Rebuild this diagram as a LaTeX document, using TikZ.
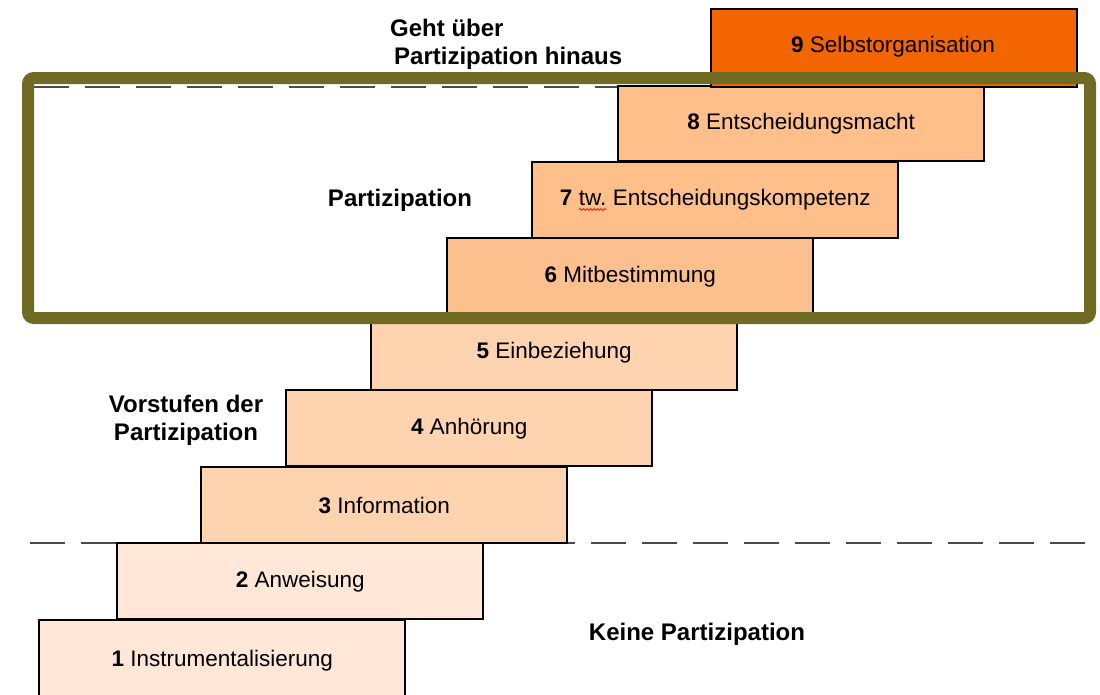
\documentclass[tikz,border=0pt]{standalone}
\usepackage{fontspec}
\setmainfont{Liberation Sans}
\usetikzlibrary{decorations.pathmorphing}
\definecolor{cnine}{HTML}{F26500}
\definecolor{ceight}{HTML}{FFBF8A}
\definecolor{csix}{HTML}{FCC08F}
\definecolor{cfive}{HTML}{FED3AF}
\definecolor{ctwo}{HTML}{FEE7D6}
\definecolor{olive}{HTML}{706B22}
\definecolor{dashgray}{HTML}{4A4A4A}
\newcommand{\squigword}[1]{\tikz[baseline=0pt,x=1pt,y=1pt]{\node[inner sep=0pt,outer sep=0pt,minimum width=0pt,minimum height=0pt,draw=none,fill=none,anchor=base west] (tw) at (0,0) {#1};
  \draw[red,line width=0.7pt,decorate,decoration={snake,amplitude=0.9pt,segment length=3.5pt}] ([yshift=-3.5pt]tw.base west) -- ([yshift=-3.5pt]tw.base east);}}
\begin{document}
\begin{tikzpicture}[x=1pt,y=-1pt,
  stepbox/.style={draw=black,line width=2.4pt,minimum width=366pt,minimum height=76pt,inner sep=0pt,anchor=north west,font=\fontsize{22.5}{27}\selectfont},
  lab/.style={font=\fontsize{24}{28}\selectfont\bfseries,align=center,inner sep=0pt},
  sep/.style={dashgray,line width=2pt,dash pattern=on 35pt off 16pt}]
\useasboundingbox[fill=white] (0,0) rectangle (1100,694);
% separator lines
\coordinate (d1a) at (30,543); \coordinate (d1b) at (1095,543);
\coordinate (d2a) at (34,86.5); \coordinate (d2b) at (617,86.5);
\draw[sep] (d1a) -- (d1b);
\draw[sep] (d2a) -- (d2b);
% steps
\node[stepbox,fill=ctwo,minimum height=80pt] (s1) at (38,619) {\textbf{1} Instrumentalisierung};
\node[stepbox,fill=ctwo] (s2) at (116,542) {\textbf{2} Anweisung};
\node[stepbox,fill=cfive] (s3) at (200,466) {\textbf{3} Information};
\node[stepbox,fill=cfive] (s4) at (285,389) {\textbf{4} Anhörung};
\node[stepbox,fill=cfive] (s5) at (370,313) {\textbf{5} Einbeziehung};
\node[stepbox,fill=csix] (s6) at (446,237) {\textbf{6} Mitbestimmung};
\node[stepbox,fill=ceight] (s7) at (531,161) {\textbf{7} \squigword{tw.} Entscheidungskompetenz};
\node[stepbox,fill=ceight,minimum height=75pt] (s8) at (617,85) {\textbf{8} Entscheidungsmacht};
\node[stepbox,fill=cnine,minimum height=78pt] (s9) at (710,8) {};
\node[font=\fontsize{22.5}{27}\selectfont,inner sep=0pt] (t9) at (893,46.5) {\textbf{9} Selbstorganisation};
% participation frame
\coordinate (fa) at (28,78); \coordinate (fb) at (1090,318);
\draw[olive,line width=12pt,rounded corners=6pt] (fa) rectangle (fb);
% labels
\node[lab,align=left,anchor=west] (geht) at (390,44) {Geht über\\\hspace*{4pt}Partizipation hinaus};
\node[lab] (part) at (400,200) {Partizipation};
\node[lab] (vor) at (186,420) {Vorstufen der\\Partizipation};
\node[lab] (keine) at (697,634) {Keine Partizipation};
\end{tikzpicture}
\end{document}
